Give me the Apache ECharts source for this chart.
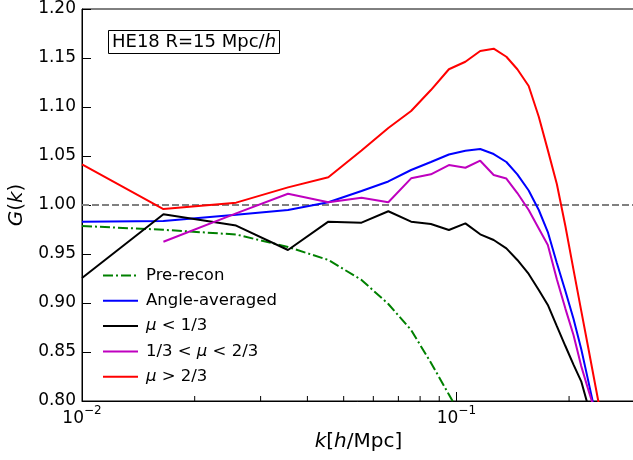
<!DOCTYPE html>
<html>
<head>
<meta charset="utf-8">
<script src="https://cdn.jsdelivr.net/npm/echarts@6/dist/echarts.min.js"></script>
<style>html,body{margin:0;padding:0;background:#fff;}#c{width:633px;height:460px;}</style>
</head>
<body>
<div id="c"></div>
<script>
// k values [h/Mpc] (first entry: value at left plot edge)
const kVals = [0.01, 0.0165, 0.0258, 0.0355, 0.0455, 0.0558, 0.0658, 0.0757, 0.0855, 0.0955, 0.1057, 0.1158, 0.1258, 0.136, 0.1455, 0.156, 0.166, 0.1755, 0.1855, 0.1955, 0.2055, 0.2155, 0.2255, 0.2355, 0.2455];
const preRecon = [0.9786, 0.9747, 0.9699, 0.9571, 0.9439, 0.9235, 0.899, 0.8724, 0.8391, 0.8066, 0.7765, null, null, null, null, null, null, null, null, null, null, null, null, null, null];
const angleAvg = [0.983, 0.9837, 0.990, 0.9949, 1.0028, 1.0143, 1.0240, 1.0357, 1.0439, 1.0515, 1.0553, 1.0571, 1.052, 1.0439, 1.0313, 1.0148, 0.9949, 0.9724, 0.9408, 0.9122, 0.884, 0.853, 0.819, 0.786, null];
const muLow = [0.9255, 0.9905, 0.979, 0.9541, 0.983, 0.982, 0.9936, 0.983, 0.9806, 0.9745, 0.9813, 0.9701, 0.9643, 0.9558, 0.9439, 0.9296, 0.9133, 0.898, 0.8764, 0.8561, 0.8371, 0.8201, 0.7932, null, null];
const muMid = [null, 0.9625, 0.9914, 1.0115, 1.0028, 1.0074, 1.0028, 1.0272, 1.0313, 1.0408, 1.038, 1.0452, 1.0306, 1.027, 1.0122, 0.9949, 0.976, 0.9592, 0.9242, 0.8943, 0.8673, 0.8356, 0.8104, 0.7877, null];
const muHigh = [1.0415, 0.9959, 1.0024, 1.018, 1.0283, 1.0557, 1.0786, 1.0959, 1.1173, 1.1385, 1.1462, 1.1571, 1.1595, 1.1513, 1.1385, 1.1214, 1.090, 1.056, 1.0214, 0.9786, 0.934, 0.8922, 0.8526, 0.8143, 0.7776];
const seriesNames = ['Pre-recon', 'Angle-averaged', '{i|μ} < 1/3', '1/3 < {i|μ} < 2/3', '{i|μ} > 2/3'];
const xRange = [0.01, 0.3];
const yTicks = [0.80, 0.85, 0.90, 0.95, 1.00, 1.05, 1.10, 1.15, 1.20];
const minorTicks = [0.02, 0.03, 0.04, 0.05, 0.06, 0.07, 0.08, 0.09, 0.2];
const refLine = 1.0;
const annotation = 'HE18 R=15 Mpc/{i|h}';

const FONT = 'DejaVu Sans';
function pairs(vals) { return kVals.map((k, i) => [k, vals[i]]); }

const chart = echarts.init(document.getElementById('c'), null, {renderer: 'canvas'});
const lineSeries = (name, vals, color, type) => ({
  name: name, type: 'line', data: pairs(vals), symbol: 'none', showSymbol: false,
  connectNulls: false, clip: true,
  lineStyle: {color: color, width: 2, type: type || 'solid', cap: 'butt'},
  itemStyle: {color: color},
  emphasis: {disabled: true}, animation: false
});

const option = {
  animation: false,
  backgroundColor: '#fff',
  textStyle: {fontFamily: FONT},
  grid: {left: 82, top: 9, right: -2, bottom: 59, outerBoundsMode: 'none', containLabel: false,
    show: true, borderColor: '#000', borderWidth: 1, backgroundColor: 'transparent'},
  title: {
    text: annotation, left: 108, top: 30, padding: [2, 4, 2, 4],
    borderColor: '#000', borderWidth: 1,
    textStyle: {fontFamily: FONT, fontSize: 18, fontWeight: 'normal', color: '#000', lineHeight: 20,
      rich: {i: {fontFamily: FONT, fontSize: 18, fontStyle: 'italic', color: '#000', lineHeight: 20}}}
  },
  legend: {
    orient: 'vertical', left: 97, top: 262, itemWidth: 35, itemHeight: 18, itemGap: 8.3,
    data: seriesNames,
    itemStyle: {opacity: 0},
    textStyle: {fontFamily: FONT, fontSize: 16.5, color: '#000', padding: [0, 0, 0, 3],
      rich: {i: {fontFamily: FONT, fontSize: 16.5, fontStyle: 'italic', color: '#000'}}},
    selectedMode: false
  },
  xAxis: {
    type: 'log', logBase: 10, min: xRange[0], max: xRange[1],
    name: '{i|k}[{i|h}/Mpc]', nameLocation: 'middle', nameGap: 27,
    nameTextStyle: {fontFamily: FONT, fontSize: 20, color: '#000',
      rich: {i: {fontFamily: FONT, fontSize: 20, fontStyle: 'italic', color: '#000'}}},
    axisLine: {lineStyle: {color: '#000', width: 1}},
    axisTick: {inside: true, length: 9, lineStyle: {color: '#000', width: 1}},
    splitLine: {show: false},
    axisLabel: {
      margin: 4, color: '#000',
      formatter: function (v) {
        const e = Math.log10(v);
        if (Math.abs(e - Math.round(e)) > 1e-6) return '';
        return '{b|10}{s|−' + Math.abs(Math.round(e)) + '}';
      },
      rich: {
        b: {fontFamily: FONT, fontSize: 17, color: '#000', lineHeight: 22, verticalAlign: 'bottom'},
        s: {fontFamily: FONT, fontSize: 12, color: '#000', lineHeight: 22, verticalAlign: 'top'}
      }
    }
  },
  yAxis: {
    type: 'value', min: yTicks[0], max: yTicks[yTicks.length - 1], interval: 0.05,
    name: '{i|G}({i|k})', nameLocation: 'middle', nameGap: 55, nameRotate: 90,
    nameTextStyle: {fontFamily: FONT, fontSize: 20, color: '#000',
      rich: {i: {fontFamily: FONT, fontSize: 20, fontStyle: 'italic', color: '#000'}}},
    axisLine: {show: true, lineStyle: {color: '#000', width: 1}},
    axisTick: {inside: true, length: 9, lineStyle: {color: '#000', width: 1}},
    splitLine: {show: false},
    axisLabel: {margin: 6, color: '#000', fontFamily: FONT, fontSize: 17, formatter: v => v.toFixed(2)}
  },
  series: [
    {
      name: 'minorTicks', type: 'custom', coordinateSystem: 'cartesian2d', silent: true, z: 5,
      data: minorTicks.map(k => [k, yTicks[0]]),
      renderItem: function (params, api) {
        const p = api.coord([api.value(0), api.value(1)]);
        return {type: 'line', shape: {x1: p[0], y1: p[1], x2: p[0], y2: p[1] - 5},
          style: {stroke: '#000', lineWidth: 1}};
      }
    },
    {
      name: 'ref', type: 'line', data: xRange.map(k => [k, refLine]), symbol: 'none', silent: true,
      lineStyle: {color: '#808080', width: 2, type: [7, 3], cap: 'butt'}, z: 1,
      emphasis: {disabled: true}, animation: false
    },
    lineSeries(seriesNames[0], preRecon, '#008000', [10, 3, 2, 3]),
    lineSeries(seriesNames[1], angleAvg, '#0000ff'),
    lineSeries(seriesNames[2], muLow, '#000000'),
    lineSeries(seriesNames[3], muMid, '#bf00bf'),
    lineSeries(seriesNames[4], muHigh, '#ff0000')
  ]
};
chart.setOption(option);
</script>
</body>
</html>
